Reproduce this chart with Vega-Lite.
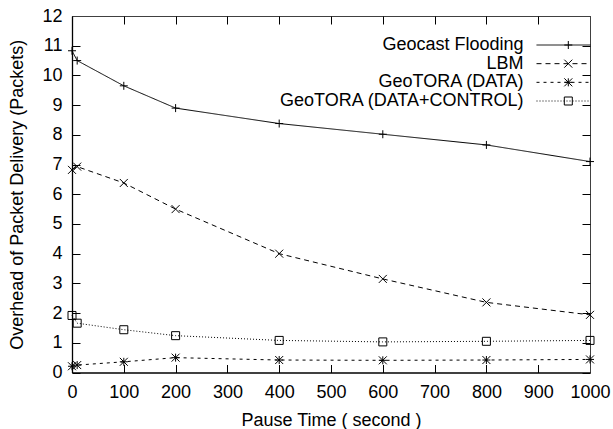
{
  "$schema": "https://vega.github.io/schema/vega-lite/v6.json",
  "width": 518,
  "height": 356.5,
  "autosize": {"type": "none"},
  "padding": {"left": 72, "top": 16, "right": 23, "bottom": 56.5},
  "background": "white",
  "config": {
    "view": {"stroke": null},
    "font": "Liberation Sans",
    "axis": {
      "labelFontSize": 18,
      "titleFontSize": 18,
      "titleFontWeight": "normal",
      "labelColor": "black",
      "titleColor": "black",
      "domainColor": "black",
      "tickColor": "black",
      "domainWidth": 1.3,
      "tickWidth": 1,
      "labelFlush": false,
      "labelOverlap": false
    }
  },
  "data": {
    "values": [
      {"series": "Geocast Flooding", "pause": 0, "overhead": 10.83},
      {"series": "Geocast Flooding", "pause": 10, "overhead": 10.5},
      {"series": "Geocast Flooding", "pause": 100, "overhead": 9.65},
      {"series": "Geocast Flooding", "pause": 200, "overhead": 8.9},
      {"series": "Geocast Flooding", "pause": 400, "overhead": 8.38},
      {"series": "Geocast Flooding", "pause": 600, "overhead": 8.02},
      {"series": "Geocast Flooding", "pause": 800, "overhead": 7.66},
      {"series": "Geocast Flooding", "pause": 1000, "overhead": 7.1},
      {"series": "LBM", "pause": 0, "overhead": 6.82},
      {"series": "LBM", "pause": 10, "overhead": 6.93},
      {"series": "LBM", "pause": 100, "overhead": 6.38},
      {"series": "LBM", "pause": 200, "overhead": 5.5},
      {"series": "LBM", "pause": 400, "overhead": 4.0},
      {"series": "LBM", "pause": 600, "overhead": 3.15},
      {"series": "LBM", "pause": 800, "overhead": 2.36},
      {"series": "LBM", "pause": 1000, "overhead": 1.94},
      {"series": "GeoTORA (DATA)", "pause": 0, "overhead": 0.21},
      {"series": "GeoTORA (DATA)", "pause": 10, "overhead": 0.25},
      {"series": "GeoTORA (DATA)", "pause": 100, "overhead": 0.36},
      {"series": "GeoTORA (DATA)", "pause": 200, "overhead": 0.5},
      {"series": "GeoTORA (DATA)", "pause": 400, "overhead": 0.42},
      {"series": "GeoTORA (DATA)", "pause": 600, "overhead": 0.41},
      {"series": "GeoTORA (DATA)", "pause": 800, "overhead": 0.42},
      {"series": "GeoTORA (DATA)", "pause": 1000, "overhead": 0.44},
      {"series": "GeoTORA (DATA+CONTROL)", "pause": 0, "overhead": 1.92},
      {"series": "GeoTORA (DATA+CONTROL)", "pause": 10, "overhead": 1.66},
      {"series": "GeoTORA (DATA+CONTROL)", "pause": 100, "overhead": 1.44},
      {"series": "GeoTORA (DATA+CONTROL)", "pause": 200, "overhead": 1.24},
      {"series": "GeoTORA (DATA+CONTROL)", "pause": 400, "overhead": 1.08},
      {"series": "GeoTORA (DATA+CONTROL)", "pause": 600, "overhead": 1.03},
      {"series": "GeoTORA (DATA+CONTROL)", "pause": 800, "overhead": 1.05},
      {"series": "GeoTORA (DATA+CONTROL)", "pause": 1000, "overhead": 1.08}
    ]
  },
  "layer": [
    {
      "mark": {"type": "line", "color": "black", "strokeWidth": 1},
      "encoding": {
        "x": {
          "field": "pause", "type": "quantitative",
          "scale": {"domain": [0, 1000], "nice": false},
          "axis": {
            "orient": "bottom", "format": "d",
            "values": [0, 100, 200, 300, 400, 500, 600, 700, 800, 900, 1000],
            "ticks": false, "domain": true, "labelPadding": 11,
            "grid": true, "gridColor": "black", "gridOpacity": 1, "gridWidth": 1,
            "gridDash": {"condition": {"test": "datum.value >= 1000", "value": [1, 0]}, "value": [8, 340.5]},
            "title": "Pause Time ( second )", "titlePadding": 10
          }
        },
        "y": {
          "field": "overhead", "type": "quantitative",
          "scale": {"domain": [0, 12], "nice": false},
          "axis": {
            "orient": "left", "format": "d",
            "values": [0, 1, 2, 3, 4, 5, 6, 7, 8, 9, 10, 11, 12],
            "ticks": false, "domain": true, "labelPadding": 10,
            "grid": true, "gridColor": "black", "gridOpacity": 1, "gridWidth": 1,
            "gridDash": {"condition": {"test": "datum.value >= 12", "value": [1, 0]}, "value": [8, 502]},
            "title": "Overhead of Packet Delivery (Packets)", "titlePadding": 15
          }
        },
        "strokeDash": {
          "field": "series", "type": "nominal",
          "sort": ["Geocast Flooding", "LBM", "GeoTORA (DATA)", "GeoTORA (DATA+CONTROL)"],
          "scale": {"range": [[1, 0], [5, 4], [3, 4], [1, 2]]},
          "legend": {
            "orient": "none", "legendX": 464, "legendY": 20,
            "title": null, "symbolType": "stroke", "symbolSize": 2916,
            "symbolStrokeWidth": 1, "symbolStrokeColor": "black",
            "labelAlign": "right", "labelOffset": -67.5,
            "labelFontSize": 18, "labelFont": "Liberation Sans", "labelColor": "black",
            "labelLimit": 400, "rowPadding": 0.67, "padding": 0,
            "encode": {
              "symbols": {"update": {"y": {"value": 9}}},
              "labels": {"update": {"y": {"value": 9}}}
            }
          }
        }
      }
    },
    {
      "mark": {"type": "point", "filled": false, "color": "black", "strokeWidth": 1, "opacity": 1, "size": 64},
      "encoding": {
        "x": {"field": "pause", "type": "quantitative", "scale": {"domain": [0, 1000], "nice": false}, "axis": null},
        "y": {"field": "overhead", "type": "quantitative", "scale": {"domain": [0, 12], "nice": false}, "axis": null},
        "shape": {
          "field": "series", "type": "nominal",
          "scale": {
            "domain": ["Geocast Flooding", "LBM", "GeoTORA (DATA)", "GeoTORA (DATA+CONTROL)"],
            "range": [
              "M-1,0L1,0M0,-1L0,1",
              "M-1,-1L1,1M-1,1L1,-1",
              "M-1,0L1,0M0,-1L0,1M-1,-1L1,1M-1,1L1,-1",
              "M-1,-1L1,-1L1,1L-1,1Z"
            ]
          },
          "legend": {
            "orient": "none", "legendX": 487.3, "legendY": 20,
            "title": null, "symbolSize": 64, "symbolStrokeWidth": 1,
            "symbolStrokeColor": "black",
            "labelExpr": "' '", "labelFontSize": 18, "labelFont": "Liberation Sans",
            "clipHeight": 18, "rowPadding": 0.67, "padding": 0
          }
        }
      }
    }
  ],
  "resolve": {
    "scale": {"x": "independent", "y": "independent"},
    "axis": {"x": "independent", "y": "independent"}
  }
}
